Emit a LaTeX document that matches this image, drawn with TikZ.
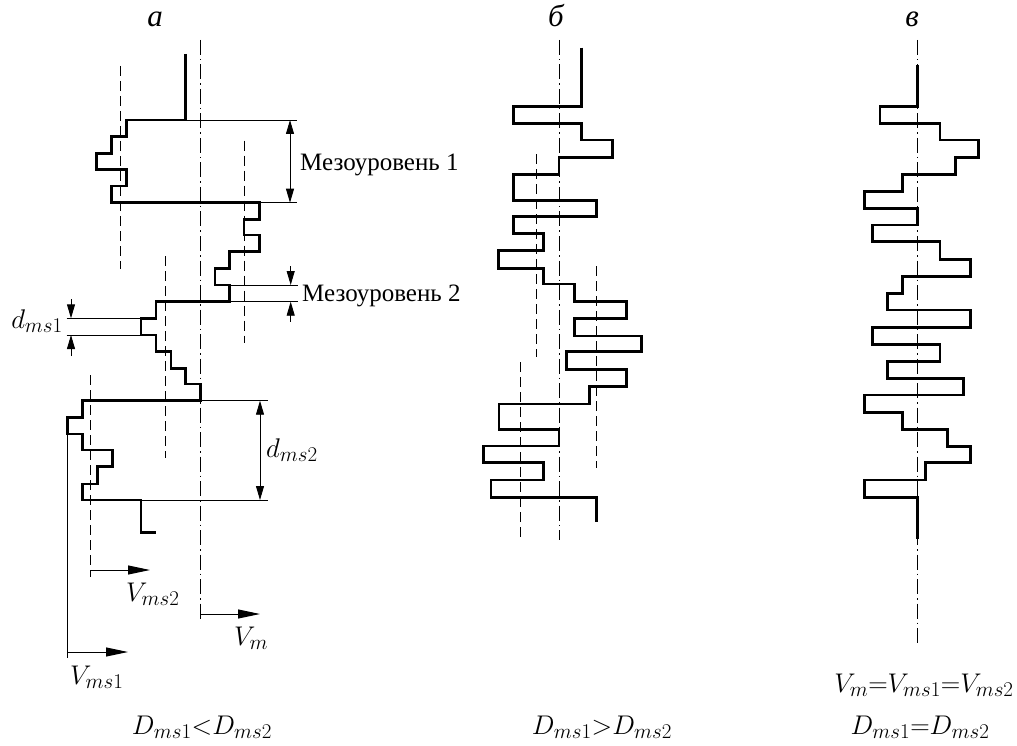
\documentclass[tikz,border=0pt]{standalone}
\usepackage{fix-cm}
\usepackage{fontspec}
\newfontfamily\cyr{Liberation Serif}
\DeclareMathSizes{27}{27}{21}{16}
\usetikzlibrary{arrows.meta}
\tikzset{
  profile/.style={line width=2.7pt, line join=miter},
  thin/.style={line width=0.9pt},
  meanline/.style={line width=1pt, dash pattern=on 10pt off 5pt},
  axisline/.style={line width=1pt, dash pattern=on 15pt off 4pt on 1.5pt off 4pt},
  dim/.style={line width=0.9pt, -{Triangle[length=14pt,width=8pt]}},
  dimboth/.style={line width=0.9pt, {Triangle[length=14pt,width=8pt]}-{Triangle[length=14pt,width=8pt]}},
  vel/.style={line width=1pt, -{Triangle[length=22pt,width=9pt]}},
  lbl/.style={inner sep=0pt, font=\fontsize{27}{32}\selectfont},
  txt/.style={inner sep=0pt, font=\fontsize{25}{30}\selectfont\cyr},
  ttl/.style={inner sep=0pt, font=\fontsize{31}{36}\selectfont\cyr\itshape},
}
\begin{document}
\begin{tikzpicture}[x=1pt,y=-1pt]
\useasboundingbox (0,0) rectangle (1017,746);

% ---------------- panel a ----------------
\node[ttl, anchor=base] (ta) at (155,27) {а};
\draw[axisline] (200.7,40) -- (200.7,621.7);
\draw[meanline] (120,66) -- (120,269);
\draw[meanline] (244,140.7) -- (244,343);
\draw[meanline] (165.7,256) -- (165.7,458.3);
\draw[meanline] (90,375) -- (90,577);

\draw[profile] (185.7,54) -- (185.7,120) -- (126.7,120) -- (126.7,136.7) -- (111.7,136.7)
  -- (111.7,153.3) -- (96.7,153.3) -- (96.7,169.3) -- (126.7,169.3) -- (126.7,186)
  -- (111.7,186) -- (111.7,202.7) -- (259.3,202.7) -- (259.3,219.3) -- (244,219.3)
  -- (244,235) -- (259.3,235) -- (259.3,251.7) -- (229.3,251.7) -- (229.3,268.3)
  -- (215,268.3) -- (215,285) -- (229.3,285) -- (229.3,301.7) -- (156,301.7)
  -- (156,318.3) -- (141,318.3) -- (141,335) -- (156,335) -- (156,351.7)
  -- (171,351.7) -- (171,368.3) -- (185.7,368.3) -- (185.7,384) -- (200.7,384)
  -- (200.7,400.7) -- (82.7,400.7) -- (82.7,417.3) -- (67.3,417.3) -- (67.3,434)
  -- (82.7,434) -- (82.7,450) -- (112.3,450) -- (112.3,466.7) -- (97.3,466.7)
  -- (97.3,484) -- (82.7,484) -- (82.7,500) -- (141,500) -- (141,532.7) -- (155.7,532.7);

% mesolevel 1
\coordinate (m1a) at (290,120);
\coordinate (m1b) at (290,202.7);
\draw[thin] (185.7,120) -- (297,120);
\draw[thin] (259.3,202.7) -- (297,202.7);
\draw[dimboth] (m1a) -- (m1b);
\node[txt, anchor=base west] (meso1) at (300,170.7) {Мезоуровень 1};

% mesolevel 2
\coordinate (m2a) at (290.7,266);
\coordinate (m2b) at (290.7,285);
\coordinate (m2c) at (290.7,301.7);
\coordinate (m2d) at (290.7,321.7);
\draw[thin] (229.3,285) -- (298,285);
\draw[thin] (229.3,301.7) -- (298,301.7);
\draw[dim] (m2a) -- (m2b);
\draw[dim] (m2d) -- (m2c);
\node[txt, anchor=base west] (meso2) at (302,301) {Мезоуровень 2};

% d_ms1
\coordinate (d1a) at (71,299.3);
\coordinate (d1b) at (71,318.3);
\coordinate (d1c) at (71,335);
\coordinate (d1d) at (71,356);
\draw[thin] (66.7,318.3) -- (141,318.3);
\draw[thin] (66.7,335) -- (141,335);
\draw[dim] (d1a) -- (d1b);
\draw[dim] (d1d) -- (d1c);
\node[lbl, anchor=base east] (dms1) at (63,328) {$d_{ms1}$};

% d_ms2
\coordinate (d2a) at (260,400.7);
\coordinate (d2b) at (260,500);
\draw[thin] (200.7,400.7) -- (268.3,400.7);
\draw[thin] (141,500) -- (268.3,500);
\draw[dimboth] (d2a) -- (d2b);
\node[lbl, anchor=base west] (dms2) at (266,457) {$d_{ms2}$};

% velocities
\coordinate (v1o) at (67.3,652);
\coordinate (v1e) at (128,652);
\draw[thin] (67.3,434) -- (67.3,658);
\draw[vel] (v1o) -- (v1e);
\node[lbl, anchor=base west] (vms1) at (70,684) {$V_{ms1}$};

\coordinate (v2o) at (90,570);
\coordinate (v2e) at (150,570);
\draw[vel] (v2o) -- (v2e);
\node[lbl, anchor=base west] (vms2) at (126,601) {$V_{ms2}$};

\coordinate (vmo) at (200.7,614);
\coordinate (vme) at (260,614);
\draw[vel] (vmo) -- (vme);
\node[lbl, anchor=base west] (vm) at (234,645) {$V_m$};

\node[lbl, anchor=base] (ca) at (202,734) {$D_{ms1}{<}D_{ms2}$};

% ---------------- panel b ----------------
\node[ttl, anchor=base] (tb) at (556,27) {б};
\draw[axisline] (559,40) -- (559,540);
\draw[meanline] (536,154.3) -- (536,357.3);
\draw[meanline] (596,266) -- (596,468.3);
\draw[meanline] (520.7,362.3) -- (520.7,540);

\draw[profile] (581.7,47.7) -- (581.7,106.7) -- (513.3,106.7) -- (513.3,123.3)
  -- (581.7,123.3) -- (581.7,140) -- (612.3,140) -- (612.3,157.3) -- (559,157.3)
  -- (559,174.3) -- (513.3,174.3) -- (513.3,200.3) -- (596.7,200.3) -- (596.7,216.7)
  -- (513.3,216.7) -- (513.3,233.3) -- (543.3,233.3) -- (543.3,250.7) -- (498.3,250.7)
  -- (498.3,268.3) -- (543.3,268.3) -- (543.3,284) -- (574.3,284) -- (574.3,301.7)
  -- (626.7,301.7) -- (626.7,318.3) -- (574.3,318.3) -- (574.3,336) -- (641.7,336)
  -- (641.7,351.7) -- (566.7,351.7) -- (566.7,369.3) -- (626.7,369.3) -- (626.7,386.7)
  -- (589.3,386.7) -- (589.3,404) -- (499,404) -- (499,429.3) -- (559,429.3)
  -- (559,446) -- (483.3,446) -- (483.3,462.7) -- (543.3,462.7) -- (543.3,480)
  -- (491,480) -- (491,497.3) -- (596.7,497.3) -- (596.7,521.7);

\node[lbl, anchor=base] (cb) at (602,734) {$D_{ms1}{>}D_{ms2}$};

% ---------------- panel c ----------------
\node[ttl, anchor=base] (tc) at (912,27) {в};
\draw[axisline] (917.7,40) -- (917.7,645);

\draw[profile] (917.7,65) -- (917.7,106.7) -- (880,106.7) -- (880,123.3) -- (940,123.3)
  -- (940,140) -- (978.3,140) -- (978.3,157.3) -- (955.7,157.3) -- (955.7,174.3)
  -- (902.7,174.3) -- (902.7,191.7) -- (864.3,191.7) -- (864.3,208.3) -- (917.7,208.3)
  -- (917.7,225) -- (872.7,225) -- (872.7,241.7) -- (940,241.7) -- (940,259.3)
  -- (970.7,259.3) -- (970.7,276.3) -- (902.7,276.3) -- (902.7,293.3) -- (887.7,293.3)
  -- (887.7,310) -- (970.7,310) -- (970.7,327.3) -- (872.3,327.3) -- (872.3,344.3)
  -- (940,344.3) -- (940,361.7) -- (887.7,361.7) -- (887.7,378.3) -- (963.3,378.3)
  -- (963.3,395) -- (864.3,395) -- (864.3,412.3) -- (902.7,412.3) -- (902.7,429.3)
  -- (947.7,429.3) -- (947.7,446.7) -- (970.7,446.7) -- (970.7,462.7) -- (925.7,462.7)
  -- (925.7,480) -- (864.3,480) -- (864.3,497.3) -- (917.7,497.3) -- (917.7,539.3);

\node[lbl, anchor=base] (vall) at (924,692) {$V_m{=}V_{ms1}{=}V_{ms2}$};
\node[lbl, anchor=base] (cc) at (920,734) {$D_{ms1}{=}D_{ms2}$};
\end{tikzpicture}
\end{document}
